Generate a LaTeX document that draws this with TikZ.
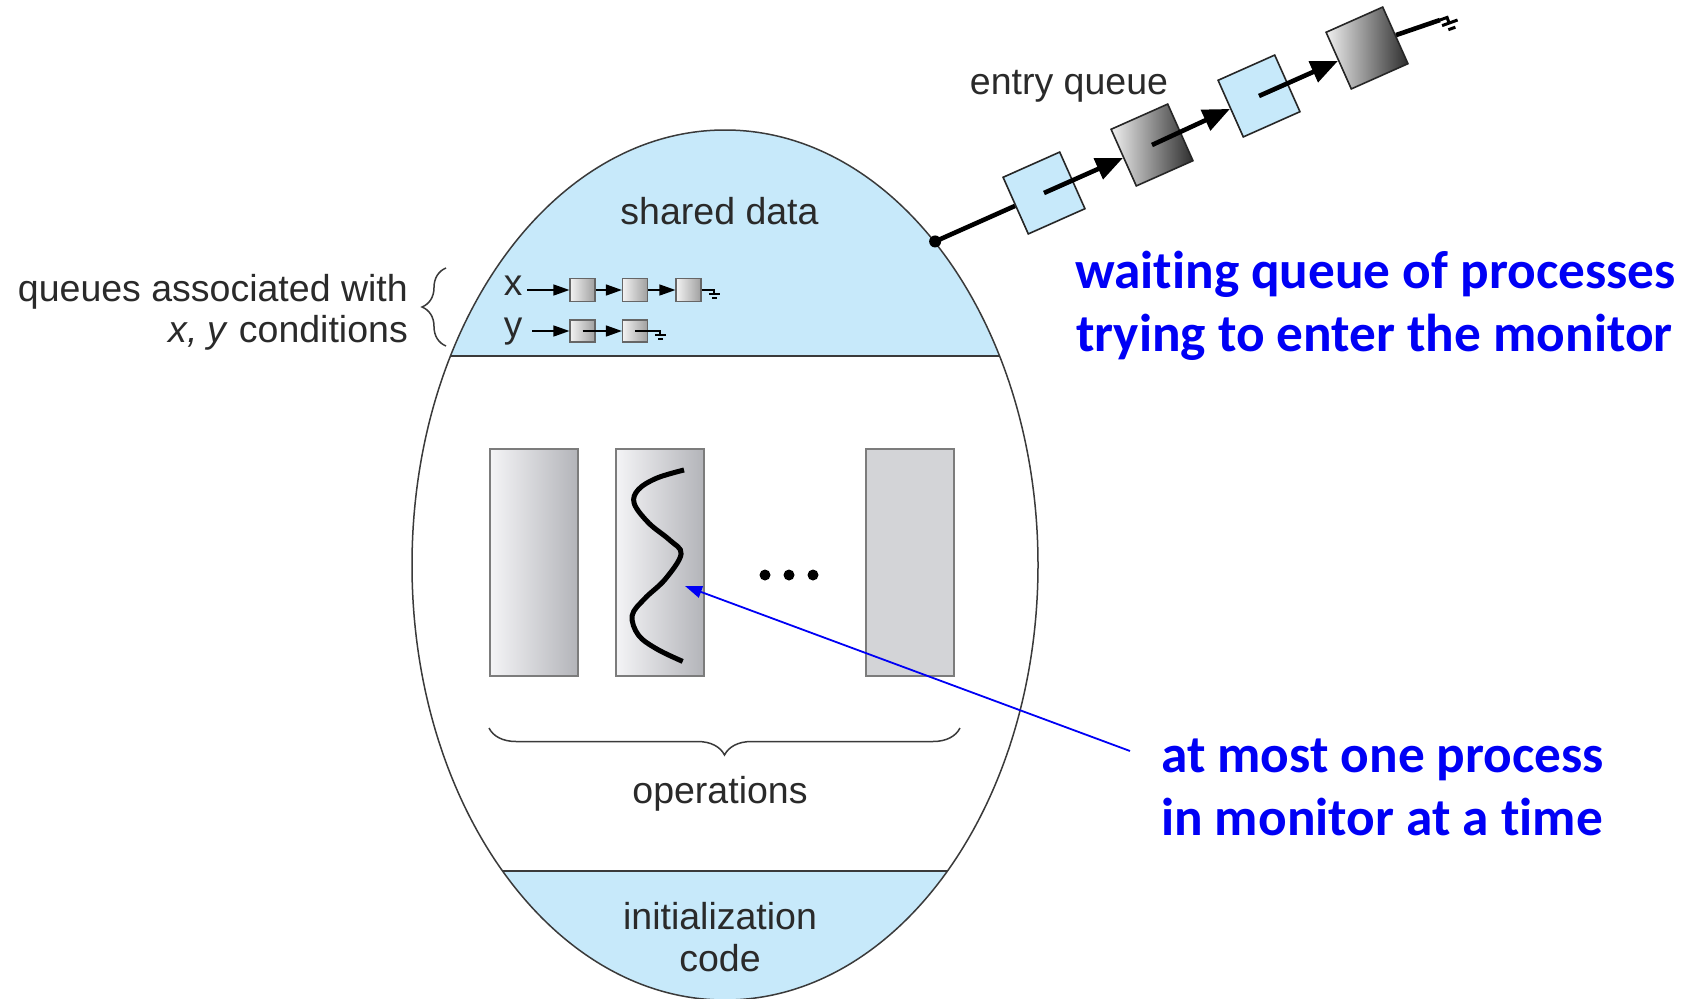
\documentclass[tikz,border=0pt]{standalone}
\usepackage{fontspec}
\setmainfont{Liberation Sans}
\newfontfamily\calloutfont[Ligatures={NoCommon,NoContextual}]{Carlito}
\usetikzlibrary{arrows.meta,decorations.pathreplacing,shapes.geometric}

\definecolor{bandblue}{RGB}{199,233,250}
\definecolor{txtgray}{HTML}{2A2A2A}
\definecolor{edgegray}{HTML}{3A3A3A}
\definecolor{boxedge}{HTML}{7C7C7C}
\definecolor{hiblue}{RGB}{0,0,245}
\definecolor{oplight}{HTML}{F4F4F6}
\definecolor{opdark}{HTML}{B3B4B9}
\definecolor{opflat}{HTML}{D3D4D7}

\tikzset{
  gnd/.pic={
    \draw (0,0) -- (5,0) -- (5,4);
    \draw (0,4) -- (11,4);
    \draw (3,8) -- (8,8);
  }
}

\begin{document}
\begin{tikzpicture}[x=1pt,y=-1pt,
 lbl/.style={text=txtgray, inner sep=0pt, font=\fontsize{37.5}{42}\selectfont},
 qlbl/.style={text=txtgray, inner sep=0pt, anchor=base, font=\fontsize{37}{37}\selectfont},
 callout/.style={text=hiblue, inner sep=0pt, anchor=base west, font=\calloutfont\bfseries\fontsize{53.3}{63}\selectfont},
 opbox/.style={draw=boxedge, line width=2pt, minimum width=88pt, minimum height=227pt, inner sep=0pt},
 qbox/.style={draw=black!60, line width=1.2pt, left color=gray!10, right color=gray!75, minimum width=25pt, minimum height=23pt, inner sep=0pt},
 ebox/.style={draw=black!85, line width=1.6pt, minimum size=62pt, inner sep=0pt, rotate=24},
 lightbox/.style={ebox, fill=bandblue},
 darkbox/.style={ebox, left color=gray!12, right color=black!82},
 qarrow/.style={line width=1.4pt, -{Triangle[length=16pt,width=11pt]}},
 qline/.style={line width=1.4pt},
 earrow/.style={line width=4.6pt, -{Triangle[length=27pt,width=22pt]}},
 eline/.style={line width=4.6pt},
 bracestyle/.style={draw=edgegray, line width=1.5pt, decorate},
 dotnode/.style={circle, fill=black, inner sep=0pt, minimum size=11pt}
]
\useasboundingbox (0,0) rectangle (1688,998);
\fill[white] (0,0) rectangle (1688,998);

% monitor bands
\begin{scope}
 \clip (725,565) ellipse [x radius=313pt, y radius=435pt];
 \fill[bandblue] (400,100) rectangle (1050,356);
 \fill[bandblue] (400,871) rectangle (1050,1010);
 \draw[edgegray, line width=1.5pt] (400,356) -- (1050,356);
 \draw[edgegray, line width=1.5pt] (400,871) -- (1050,871);
\end{scope}
\node[draw=edgegray, line width=1.5pt, ellipse, minimum width=626pt, minimum height=870pt, inner sep=0pt] (monitor) at (725,565) {};

% labels inside monitor
\node[lbl, anchor=base] (shared) at (719.5,224.5) {shared data};
\node[lbl, anchor=base] (ops) at (720,803) {operations};
\node[lbl, anchor=base] (init1) at (720,929) {initialization};
\node[lbl, anchor=base] (init2) at (720,971) {code};

% operation boxes
\node[opbox, left color=oplight, right color=opdark] (op1) at (534,562.5) {};
\node[opbox, left color=oplight, right color=opdark] (op2) at (660,562.5) {};
\node[opbox, fill=opflat] (op3) at (910,562.5) {};
\draw[line width=5pt] plot[smooth, tension=0.6] coordinates {(684,470) (657,478) (638.4,489.5) (634.2,503.5) (648.8,523.1) (669.5,539.9) (681.1,553.9) (665.3,579.1) (644.6,598.7) (632.2,615.5) (638.4,635.1) (657,649.1) (682.7,661.4)};
\node[dotnode] (d1) at (765,575) {};
\node[dotnode] (d2) at (789,575) {};
\node[dotnode] (d3) at (813,575) {};
\draw[bracestyle, decoration={brace, amplitude=27pt}] (960,728) -- (489,728);

% condition queues
\node[lbl, anchor=base east] (qa1) at (408,301) {queues associated with};
\node[lbl, anchor=base east] (qa2) at (408,342) {\textit{x, y} conditions};
\draw[bracestyle, decoration={brace, amplitude=24pt}] (446,346) -- (446,268);

\node[qlbl] (xl) at (513,295) {x};
\node[qbox] (x1) at (582.5,290) {};
\node[qbox] (x2) at (635,290) {};
\node[qbox] (x3) at (688.5,290) {};
\coordinate (xs) at (527,290);
\coordinate (xg) at (709,290);
\draw[qarrow] (xs) -- (x1.west);
\draw[qarrow] (x1.east) -- (x2.west);
\draw[qarrow] (x2.east) -- (x3.west);
\draw[qline] (x3.east) -- (xg);
\pic[line width=1.2pt] at (xg) {gnd};

\node[qlbl] (yl) at (513,337) {y};
\node[qbox, minimum height=22pt] (y1) at (582.5,331) {};
\node[qbox, minimum height=22pt] (y2) at (635,331) {};
\coordinate (ys) at (532,331);
\coordinate (yg) at (655,331);
\draw[qarrow] (ys) -- (y1.west);
\draw[qarrow] (y1.center) -- (y2.west);
\draw[qline] (y2.center) -- (yg);
\pic[line width=1.2pt] at (yg) {gnd};

% entry queue
\node[lbl, anchor=base] (entry) at (1069,94) {entry queue};
\node[lightbox] (e1) at (1044,193) {};
\node[darkbox] (e2) at (1152,145) {};
\node[lightbox] (e3) at (1259,96) {};
\node[darkbox] (e4) at (1367,48) {};
\node[dotnode, minimum size=12pt] (dot) at (monitor.57.5) {};
\draw[eline] (dot.center) -- (e1.west);
\draw[earrow] (e1.center) -- (e2.west);
\draw[earrow] (e2.center) -- (e3.west);
\draw[earrow] (e3.center) -- (e4.west);
\coordinate (eg) at (1440,20);
\draw[eline] (e4.east) -- (eg);
\pic[line width=3pt, rotate=20, scale=1.5] at (eg) {gnd};

% callouts
\node[callout] (wait1) at (1075,288) {waiting queue of processes};
\node[callout] (wait2) at (1076,351) {trying to enter the monitor};
\node[callout] (most1) at (1161,772) {at most one process};
\node[callout] (most2) at (1161,835) {in monitor at a time};
\coordinate (bstart) at (1130,751);
\coordinate (btip) at (685,586);
\draw[hiblue, line width=1.8pt, -{Triangle[length=17pt,width=12pt]}] (bstart) -- (btip);
\end{tikzpicture}
\end{document}
